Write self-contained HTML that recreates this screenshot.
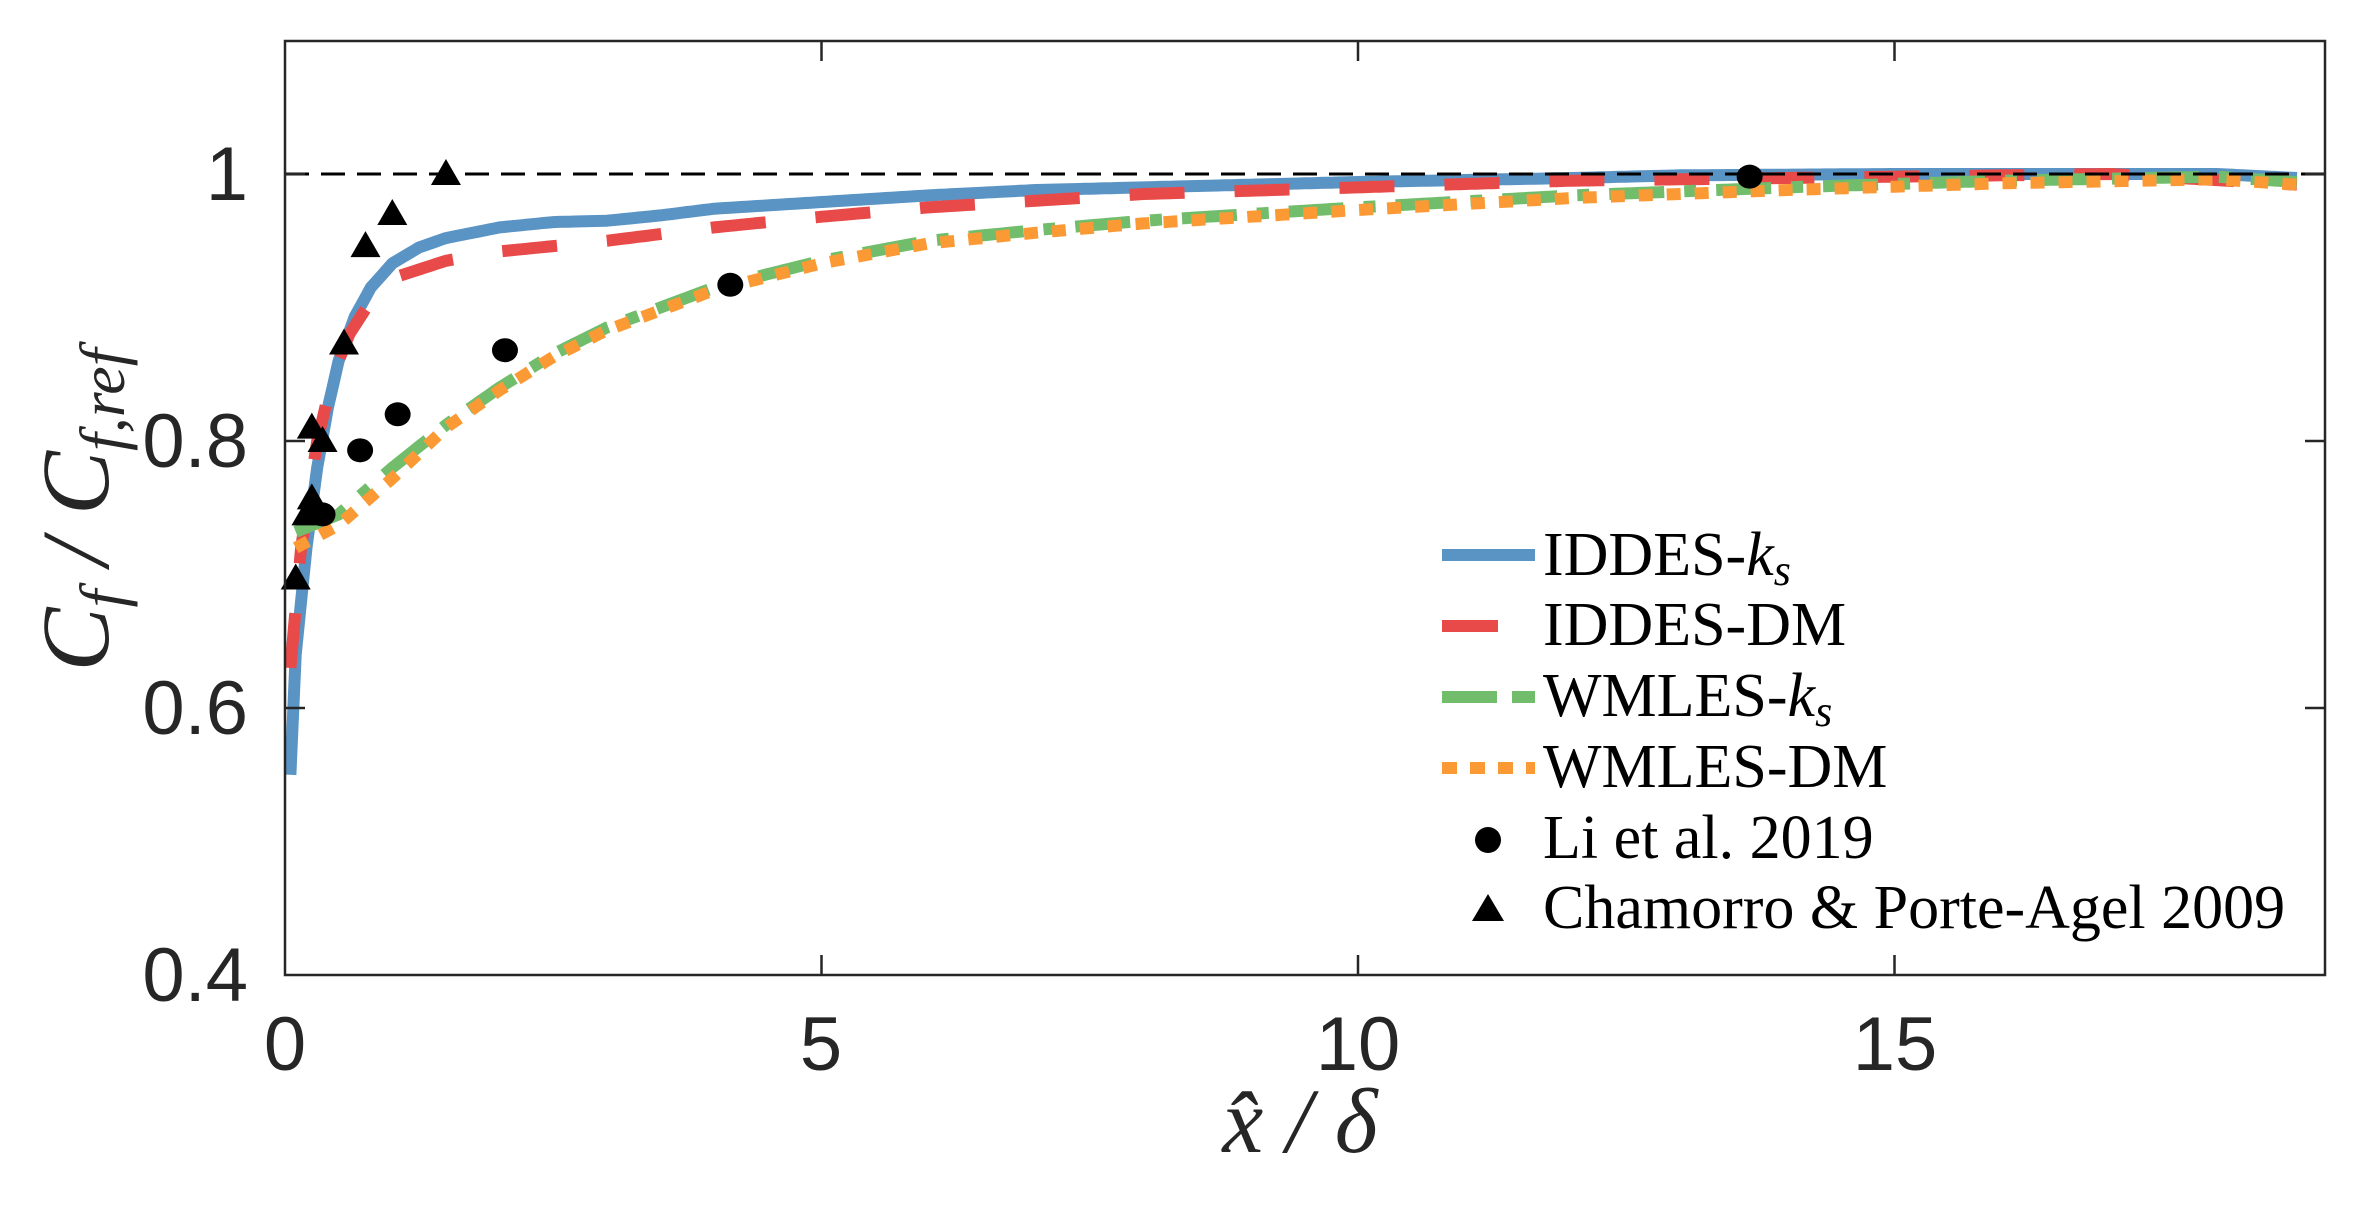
<!DOCTYPE html>
<html><head><meta charset="utf-8"><style>
html,body{margin:0;padding:0;background:#fff;}
svg{display:block;}
</style></head><body>
<svg id="s" width="2353" height="1211" xmlns="http://www.w3.org/2000/svg">
<rect width="2353" height="1211" fill="#fff"/>
<g id="data"></g>
<line x1="285" y1="174" x2="2325" y2="174" stroke="#000" stroke-width="3" stroke-dasharray="24,12"/>
<rect x="285" y="41" width="2040" height="934" fill="none" stroke="#262626" stroke-width="2.5"/>
<g id="ticks" stroke="#262626" stroke-width="2.5"></g>
<g font-family="Liberation Sans, sans-serif" font-size="76" fill="#262626">
<text x="248" y="200" text-anchor="end">1</text>
<text x="248" y="467" text-anchor="end">0.8</text>
<text x="248" y="734" text-anchor="end">0.6</text>
<text x="248" y="1001" text-anchor="end">0.4</text>
<text x="285" y="1070" text-anchor="middle">0</text>
<text x="821" y="1070" text-anchor="middle">5</text>
<text x="1358" y="1070" text-anchor="middle">10</text>
<text x="1895" y="1070" text-anchor="middle">15</text>
</g>
<g font-family="Liberation Serif, serif" font-style="italic" fill="#262626">
<text transform="translate(108,510) rotate(-90)" text-anchor="middle" font-size="96">C<tspan font-size="64" dy="16">f</tspan><tspan dy="-16"> / C</tspan><tspan font-size="64" dy="16">f,ref</tspan></text>
<text x="1300" y="1152" text-anchor="middle" font-size="92">x̂ / δ</text>
</g>
<g id="legend"></g>
<g font-family="Liberation Serif, serif" font-size="62" fill="#000">
<text x="1543" y="575">IDDES-<tspan font-style="italic">k</tspan><tspan font-style="italic" font-size="44" dy="10">s</tspan></text>
<text x="1543" y="645">IDDES-DM</text>
<text x="1543" y="716">WMLES-<tspan font-style="italic">k</tspan><tspan font-style="italic" font-size="44" dy="10">s</tspan></text>
<text x="1543" y="787">WMLES-DM</text>
<text x="1543" y="858">Li et al. 2019</text>
<text x="1543" y="928">Chamorro &amp; Porte-Agel 2009</text>
</g>
</svg>
<script>
var NS="http://www.w3.org/2000/svg";
function X(x){return 285+107.3*x;}
function Y(v){return 975-(v-0.4)*1335;}
function el(p,t,a){var e=document.createElementNS(NS,t);for(var k in a)e.setAttribute(k,a[k]);p.appendChild(e);return e;}
function interp(pts,step){var out=[];for(var i=0;i<pts.length-1;i++){var a=pts[i],b=pts[i+1];var n=Math.max(1,Math.round((b[0]-a[0])/step));for(var j=0;j<n;j++){var t=j/n;out.push([a[0]+(b[0]-a[0])*t,a[1]+(b[1]-a[1])*t]);}}out.push(pts[pts.length-1]);return out;}
function path(pts){return pts.map(function(p,i){return (i?"L":"M")+X(p[0]).toFixed(1)+","+Y(p[1]).toFixed(1);}).join("");}
var d=document.getElementById("data");
var blue=[[0.05,0.55],[0.1,0.64],[0.2,0.72],[0.3,0.78],[0.4,0.825],[0.5,0.86],[0.65,0.893],[0.8,0.915],[1,0.933],[1.25,0.945],[1.5,0.952],[2,0.96],[2.5,0.964],[3,0.965],[3.5,0.969],[4,0.974],[5,0.979],[6,0.984],[7,0.988],[8,0.99],[10,0.994],[12,0.997],[13,0.999],[15,1.0],[18,1.0],[18.75,0.997]];
var red=[[0.05,0.63],[0.15,0.72],[0.3,0.8],[0.45,0.85],[0.6,0.88],[0.8,0.905],[1,0.922],[1.5,0.935],[2,0.942],[3,0.95],[4,0.96],[5,0.968],[6,0.975],[8,0.985],[10,0.99],[12,0.995],[15,0.998],[17,1.0],[18.75,0.992]];
var green=[[0.1,0.732],[0.5,0.745],[1,0.78],[1.5,0.812],[2,0.84],[2.5,0.865],[3,0.885],[3.5,0.9],[4,0.915],[5,0.935],[6,0.95],[7,0.958],[8,0.965],[10,0.975],[12,0.984],[14,0.99],[16,0.995],[18,0.998],[18.75,0.994]];
var orange=green.map(function(p,i){return [p[0],(p[0]<1.5?p[1]-0.008:p[1]-0.002)];});
orange[0]=[0.1,0.72];
el(d,"path",{d:path(interp(blue,0.05)),fill:"none",stroke:"#5a94c4","stroke-width":12,"stroke-linejoin":"round"});
el(d,"path",{d:path(interp(red,0.05)),fill:"none",stroke:"#e84a4a","stroke-width":12,"stroke-dasharray":"55,50"});
el(d,"path",{d:path(interp(green,0.05)),fill:"none",stroke:"#72bd6c","stroke-width":12,"stroke-dasharray":"55,20,12,20"});
el(d,"path",{d:path(interp(orange,0.05)),fill:"none",stroke:"#fb9a35","stroke-width":12,"stroke-dasharray":"14,14"});
var li=[[0.35,0.745],[0.7,0.793],[1.05,0.82],[2.05,0.868],[4.15,0.917],[13.65,0.998]];
li.forEach(function(p){el(d,"ellipse",{cx:X(p[0]),cy:Y(p[1]),rx:13,ry:12,fill:"#000"});});
var tri=[[0.1,0.697],[0.2,0.745],[0.25,0.757],[0.25,0.81],[0.35,0.8],[0.55,0.873],[0.75,0.946],[1.0,0.97],[1.5,1.0]];
tri.forEach(function(p){var x=X(p[0]),y=Y(p[1]);el(d,"polygon",{points:(x-15)+","+(y+11)+" "+(x+15)+","+(y+11)+" "+x+","+(y-15),fill:"#000"});});
var t=document.getElementById("ticks");
[5,10,15].forEach(function(v){var x=X(v);el(t,"line",{x1:x,y1:975,x2:x,y2:955});el(t,"line",{x1:x,y1:41,x2:x,y2:61});});
[0.6,0.8,1.0].forEach(function(v){var y=Y(v);el(t,"line",{x1:285,y1:y,x2:305,y2:y});el(t,"line",{x1:2325,y1:y,x2:2305,y2:y});});
var L=document.getElementById("legend");
el(L,"line",{x1:1442,y1:555,x2:1535,y2:555,stroke:"#5a94c4","stroke-width":12});
el(L,"line",{x1:1442,y1:626,x2:1498,y2:626,stroke:"#e84a4a","stroke-width":12});
el(L,"line",{x1:1442,y1:697,x2:1535,y2:697,stroke:"#72bd6c","stroke-width":12,"stroke-dasharray":"55,15,23,0"});
el(L,"line",{x1:1442,y1:768,x2:1535,y2:768,stroke:"#fb9a35","stroke-width":12,"stroke-dasharray":"15,13"});
el(L,"ellipse",{cx:1488,cy:840,rx:13,ry:13,fill:"#000"});
el(L,"polygon",{points:"1472,921 1504,921 1488,894",fill:"#000"});
</script>
</body></html>
